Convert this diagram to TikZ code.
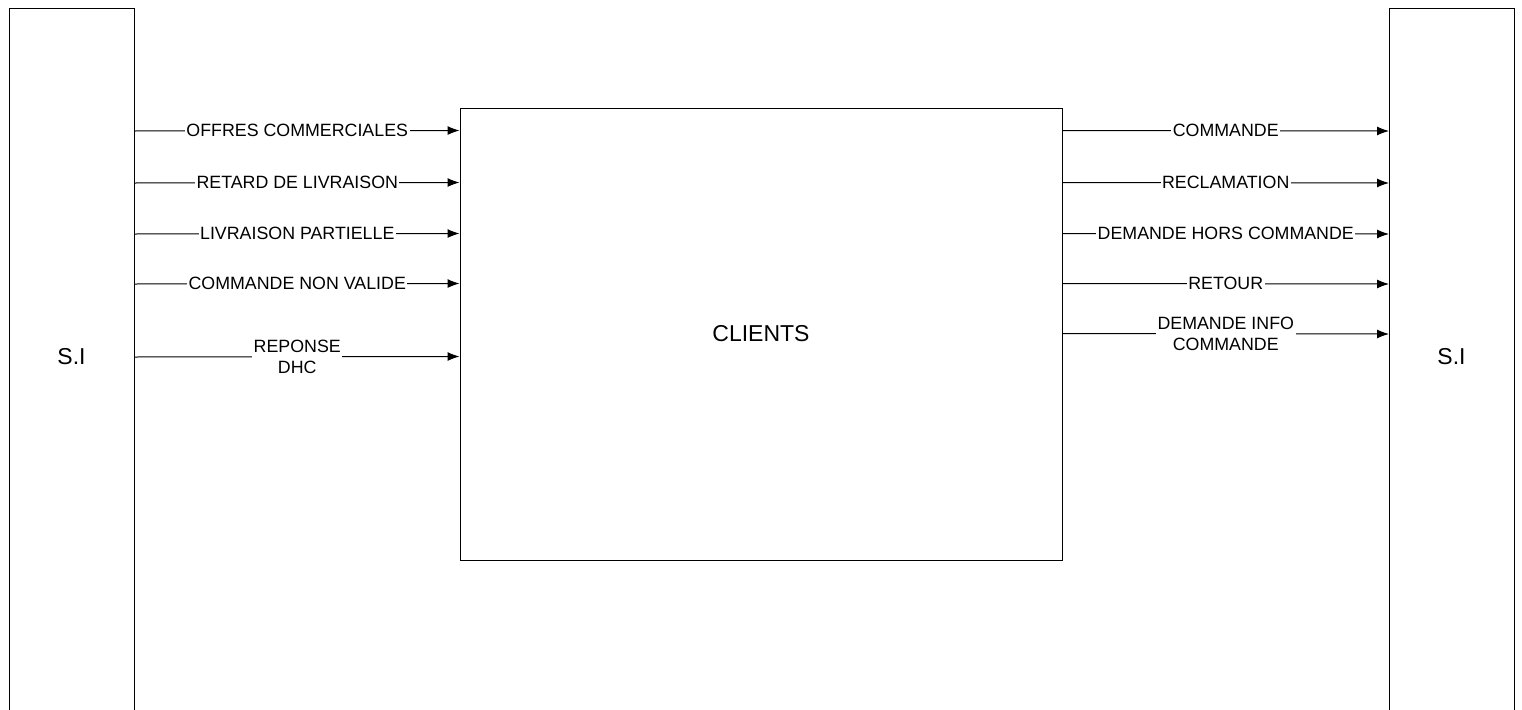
\documentclass[tikz,border=0pt]{standalone}
\usepackage{fontspec}
\setmainfont{Liberation Sans}
\usetikzlibrary{arrows.meta}
\begin{document}
\begin{tikzpicture}[x=1pt,y=-1pt,
  frame/.style={draw, line width=1pt, inner sep=0pt},
  lbl/.style={fill=white, inner xsep=1.5pt, inner ysep=1pt, align=center,
    font=\fontsize{17.8}{20.5}\selectfont},
  big/.style={font=\fontsize{23}{26}\selectfont},
  flow/.style={line width=1pt, -{Latex[length=12pt,width=9pt]}}]
\useasboundingbox (0,0) rectangle (1522,709);
\begin{scope}
  \clip (0,0) rectangle (1522,709);
  % side systems (run off the bottom edge)
  \node[frame, minimum width=125pt, minimum height=720pt, anchor=north west] (siL) at (9,8) {};
  \node[frame, minimum width=125pt, minimum height=720pt, anchor=north west] (siR) at (1389,8) {};
\end{scope}
\node[big] (siLt) at (71.5,357) {S.I};
\node[big] (siRt) at (1451.5,357) {S.I};

% central actor
\node[frame, minimum width=602pt, minimum height=452pt, big] (cl) at (761,334) {CLIENTS};

% incoming flows
\draw[flow] ([yshift=-123pt]siL.north east) -- ([yshift=-23pt]cl.north west)
  node[midway, lbl] {OFFRES COMMERCIALES};
\draw[flow] ([yshift=-175pt]siL.north east) -- ([yshift=-75pt]cl.north west)
  node[midway, lbl] {RETARD DE LIVRAISON};
\draw[flow] ([yshift=-226pt]siL.north east) -- ([yshift=-126pt]cl.north west)
  node[midway, lbl] {LIVRAISON PARTIELLE};
\draw[flow] ([yshift=-276pt]siL.north east) -- ([yshift=-176pt]cl.north west)
  node[midway, lbl] {COMMANDE NON VALIDE};
\draw[flow] ([yshift=-349pt]siL.north east) -- ([yshift=-249pt]cl.north west)
  node[midway, lbl] {REPONSE\\DHC};

% outgoing flows
\draw[flow] ([yshift=-23pt]cl.north east) -- ([yshift=-123pt]siR.north west)
  node[midway, lbl] {COMMANDE};
\draw[flow] ([yshift=-75pt]cl.north east) -- ([yshift=-175pt]siR.north west)
  node[midway, lbl] {RECLAMATION};
\draw[flow] ([yshift=-126pt]cl.north east) -- ([yshift=-226pt]siR.north west)
  node[midway, lbl] {DEMANDE HORS COMMANDE};
\draw[flow] ([yshift=-176pt]cl.north east) -- ([yshift=-276pt]siR.north west)
  node[midway, lbl] {RETOUR};
\draw[flow] ([yshift=-226pt]cl.north east) -- ([yshift=-326pt]siR.north west)
  node[midway, lbl] {DEMANDE INFO\\COMMANDE};
\end{tikzpicture}
\end{document}
